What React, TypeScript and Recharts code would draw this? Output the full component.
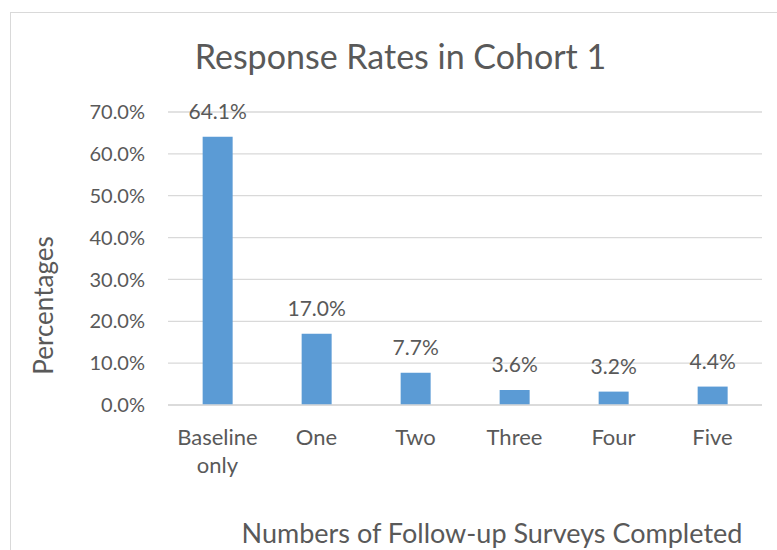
import React from "react";
import {
  Bar,
  BarChart,
  CartesianGrid,
  LabelList,
  XAxis,
  YAxis,
} from "recharts";

// Share of respondents by number of follow-up surveys completed
const categories = ["Baseline only", "One", "Two", "Three", "Four", "Five"];
const percentages = [64.1, 17.0, 7.7, 3.6, 3.2, 4.4];
const yTicks = [0, 10, 20, 30, 40, 50, 60, 70];

const data = categories.map((name, i) => ({ name, value: percentages[i] }));

const FONT = "Lato, 'Open Sans', sans-serif";
const TEXT = "#595959";
const GRID = "#d9d9d9";
const BAR = "#5b9bd5";

const pct = (v: number) => `${Number(v).toFixed(1)}%`;

// Excel-style wrapped category label: one word per line
function CategoryTick(props: any) {
  const { x, y, payload } = props;
  const words = String(payload.value).split(" ");
  return (
    <text
      x={x}
      y={y}
      textAnchor="middle"
      fill={TEXT}
      fontSize={22}
      fontFamily={FONT}
    >
      {words.map((w, i) => (
        <tspan key={w} x={x} dy={i === 0 ? "0.71em" : 28}>
          {w}
        </tspan>
      ))}
    </text>
  );
}

export default function App() {
  return (
    <div
      style={{
        position: "absolute",
        left: 0,
        top: 0,
        width: 777,
        height: 550,
        overflow: "hidden",
        background: "#fff",
      }}
    >
      {/* chart area frame, runs off the right and bottom edges */}
      <div
        style={{
          position: "absolute",
          left: 10,
          top: 12,
          width: 900,
          height: 700,
          border: `1px solid ${GRID}`,
        }}
      />
      <div
        style={{
          position: "absolute",
          left: 0,
          top: 36,
          width: 801,
          textAlign: "center",
          fontFamily: FONT,
          fontSize: 34,
          color: TEXT,
          lineHeight: "40px",
        }}
      >
        Response Rates in Cohort 1
      </div>
      <div style={{ position: "absolute", left: 0, top: 0 }}>
        <BarChart
          width={777}
          height={550}
          data={data}
          margin={{ top: 112, right: 15, bottom: 10, left: 20 }}
          barCategoryGap="35%"
        >
          <CartesianGrid vertical={false} stroke={GRID} strokeWidth={1.3} />
          <XAxis
            dataKey="name"
            axisLine={{ stroke: GRID, strokeWidth: 1.3 }}
            tickLine={false}
            tickMargin={18}
            height={135}
            interval={0}
            tick={<CategoryTick />}
            label={{
              content: ({ viewBox }: any) => (
                <text
                  x={viewBox.x + viewBox.width / 2 + 27}
                  y={viewBox.y + viewBox.height + 3}
                  textAnchor="middle"
                  fill={TEXT}
                  fontSize={27}
                  fontFamily={FONT}
                >
                  Numbers of Follow-up Surveys Completed
                </text>
              ),
            }}
          />
          <YAxis
            width={148}
            domain={[0, 70]}
            ticks={yTicks}
            tickFormatter={pct}
            axisLine={false}
            tickLine={false}
            tickMargin={17}
            tick={{ fill: TEXT, fontSize: 20, fontFamily: FONT }}
            label={{
              content: ({ viewBox }: any) => {
                const cx = viewBox.x + 23;
                const cy = viewBox.y + viewBox.height / 2 + 47;
                return (
                  <text
                    x={cx}
                    y={cy}
                    transform={`rotate(-90 ${cx} ${cy})`}
                    textAnchor="middle"
                    dominantBaseline="central"
                    fill={TEXT}
                    fontSize={26}
                    fontFamily={FONT}
                  >
                    Percentages
                  </text>
                );
              },
            }}
          />
          <Bar dataKey="value" fill={BAR} isAnimationActive={false}>
            <LabelList
              dataKey="value"
              position="top"
              offset={18}
              formatter={(v: any) => pct(v)}
              fill={TEXT}
              fontSize={21}
              fontFamily={FONT}
            />
          </Bar>
        </BarChart>
      </div>
    </div>
  );
}
